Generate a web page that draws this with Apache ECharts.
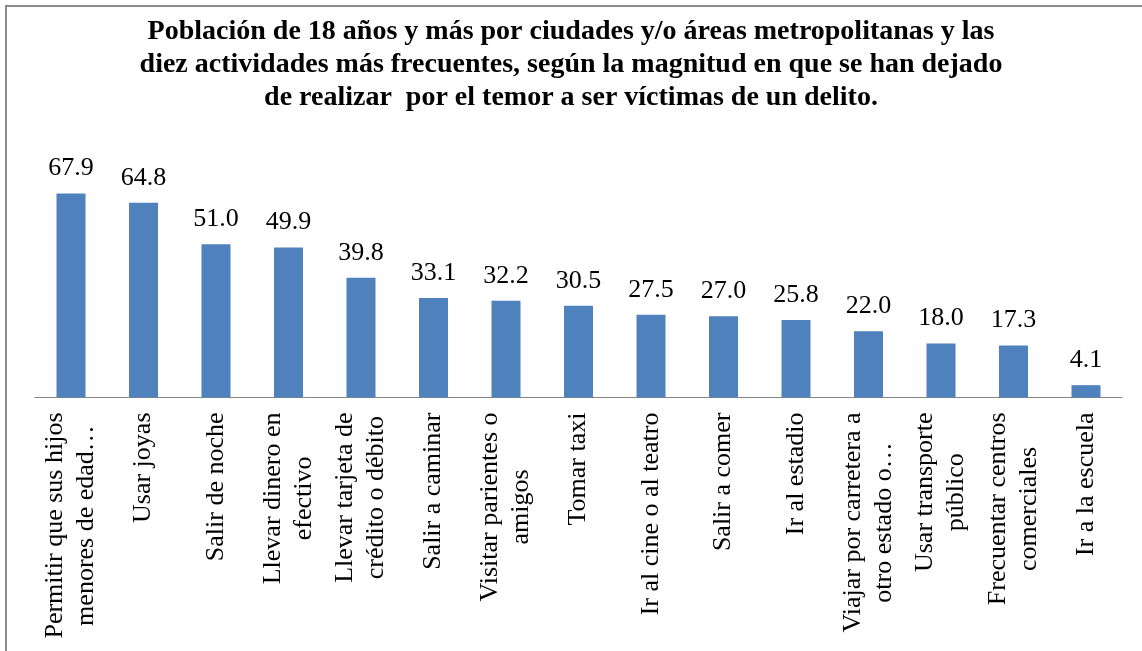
<!DOCTYPE html>
<html>
<head>
<meta charset="utf-8">
<script src="https://cdn.jsdelivr.net/npm/echarts@6/dist/echarts.min.js"></script>
<style>
html,body{margin:0;padding:0;background:#fff;}
#chart{width:1142px;height:651px;}
</style>
</head>
<body>
<div id="chart"></div>
<script>
const titleText = "Población de 18 años y más por ciudades y/o áreas metropolitanas y las\ndiez actividades más frecuentes, según la magnitud en que se han dejado\nde realizar  por el temor a ser víctimas de un delito.";
const categories = [
  "Permitir que sus hijos\nmenores de edad…",
  "Usar joyas",
  "Salir de noche",
  "Llevar dinero en\nefectivo",
  "Llevar tarjeta de\ncrédito o débito",
  "Salir a caminar",
  "Visitar parientes o\namigos",
  "Tomar taxi",
  "Ir al cine o al teatro",
  "Salir a comer",
  "Ir al estadio",
  "Viajar por carretera a\notro estado o…",
  "Usar transporte\npúblico",
  "Frecuentar centros\ncomerciales",
  "Ir a la escuela"
];
const values = [67.9, 64.8, 51.0, 49.9, 39.8, 33.1, 32.2, 30.5, 27.5, 27.0, 25.8, 22.0, 18.0, 17.3, 4.1];

const serif = "'Liberation Serif', 'Times New Roman', serif";
const chart = echarts.init(document.getElementById('chart'));
chart.setOption({
  animation: false,
  backgroundColor: '#fff',
  title: {
    text: titleText,
    left: 'center',
    top: 10,
    padding: [5, 0, 5, 14],
    textStyle: { fontFamily: serif, fontWeight: 'bold', fontSize: 28, lineHeight: 33, color: '#000' }
  },
  graphic: [{
    type: 'rect',
    shape: { x: 6, y: 6, width: 1200, height: 700 },
    style: { fill: 'none', stroke: '#8a8a8a', lineWidth: 2 },
    silent: true
  }],
  grid: { left: 34.75, right: 19.75, top: 157, bottom: 253.5, containLabel: false },
  xAxis: {
    type: 'category',
    data: categories,
    axisLine: { lineStyle: { color: '#868686', width: 1 } },
    axisTick: { show: false },
    axisLabel: {
      interval: 0,
      rotate: 90,
      margin: 15,
      formatter: function (v) { return v.split('\n').map(function (l) { return '{c|' + l + '}'; }).join('\n'); },
      rich: { c: { align: 'center', fontFamily: serif, fontSize: 26, lineHeight: 31, color: '#000' } }
    }
  },
  yAxis: {
    type: 'value',
    min: 0, max: 80,
    show: false,
    splitLine: { show: false }
  },
  series: [{
    type: 'bar',
    data: values,
    barWidth: 29,
    itemStyle: { color: '#4F81BD' },
    label: {
      show: true,
      position: 'top',
      distance: 12,
      formatter: function (p) { return p.value.toFixed(1); },
      fontFamily: serif,
      fontSize: 26,
      color: '#000'
    }
  }]
});
</script>
</body>
</html>
